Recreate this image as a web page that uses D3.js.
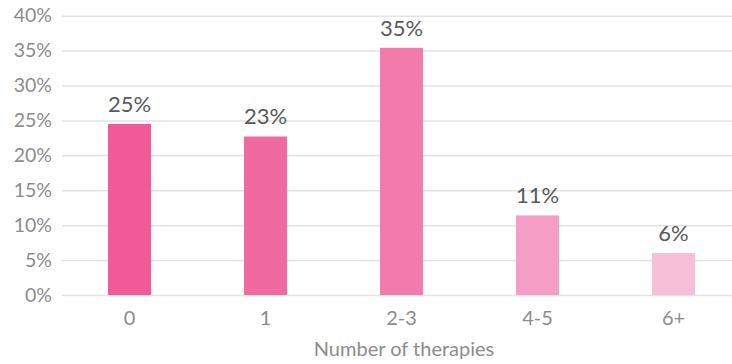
<!DOCTYPE html>
<html><head><meta charset="utf-8">
<script src="https://cdn.jsdelivr.net/npm/d3@7"></script>
<style>body{margin:0;background:#fff}svg{display:block}text{font-family:Lato,"Open Sans",sans-serif}</style>
</head><body>
<svg id="c" width="732" height="364"></svg>
<script>
const categories = ["0", "1", "2-3", "4-5", "6+"];
const values = [24.5, 22.7, 35.4, 11.4, 6.0];
const valueLabels = ["25%", "23%", "35%", "11%", "6%"];
const barColors = ["#F05A98", "#F0699F", "#F27BAC", "#F49DC5", "#F7BED8"];
const yTicks = [0, 5, 10, 15, 20, 25, 30, 35, 40];
const xTitle = "Number of therapies";

const svg = d3.select("#c");
const x = d3.scaleBand().domain(categories).range([61.5, 741.5]).paddingInner(0.684).paddingOuter(0.342);
const y = d3.scaleLinear().domain([0, 40]).range([295, 15.7]);

const yAxis = svg.append("g").attr("transform", "translate(62,0)")
  .call(d3.axisLeft(y).tickValues(yTicks).tickFormat(d => d + "%").tickSize(-670).tickPadding(10));
yAxis.select(".domain").remove();
yAxis.selectAll(".tick line").attr("stroke", "#e3e3e3").attr("stroke-width", 1.5);
yAxis.selectAll(".tick text").attr("fill", "#8c8c8c").attr("font-size", 19.5);

svg.selectAll("rect.bar").data(values).join("rect").attr("class", "bar")
  .attr("x", (d, i) => x(categories[i])).attr("width", x.bandwidth())
  .attr("y", d => y(d)).attr("height", d => y(0) - y(d))
  .attr("fill", (d, i) => barColors[i]);

svg.selectAll("text.val").data(values).join("text").attr("class", "val")
  .attr("x", (d, i) => x(categories[i]) + x.bandwidth() / 2)
  .attr("y", d => y(d) - 12).attr("text-anchor", "middle")
  .attr("fill", "#595959").attr("font-size", 22)
  .text((d, i) => valueLabels[i]);

const xAxis = svg.append("g").attr("transform", "translate(0,295)")
  .call(d3.axisBottom(x).tickSize(0).tickPadding(16));
xAxis.select(".domain").remove();
xAxis.selectAll(".tick text").attr("fill", "#8c8c8c").attr("font-size", 20);

svg.append("text").attr("x", 404).attr("y", 356).attr("text-anchor", "middle")
  .attr("fill", "#8c8c8c").attr("font-size", 20).text(xTitle);
</script>
</body></html>
